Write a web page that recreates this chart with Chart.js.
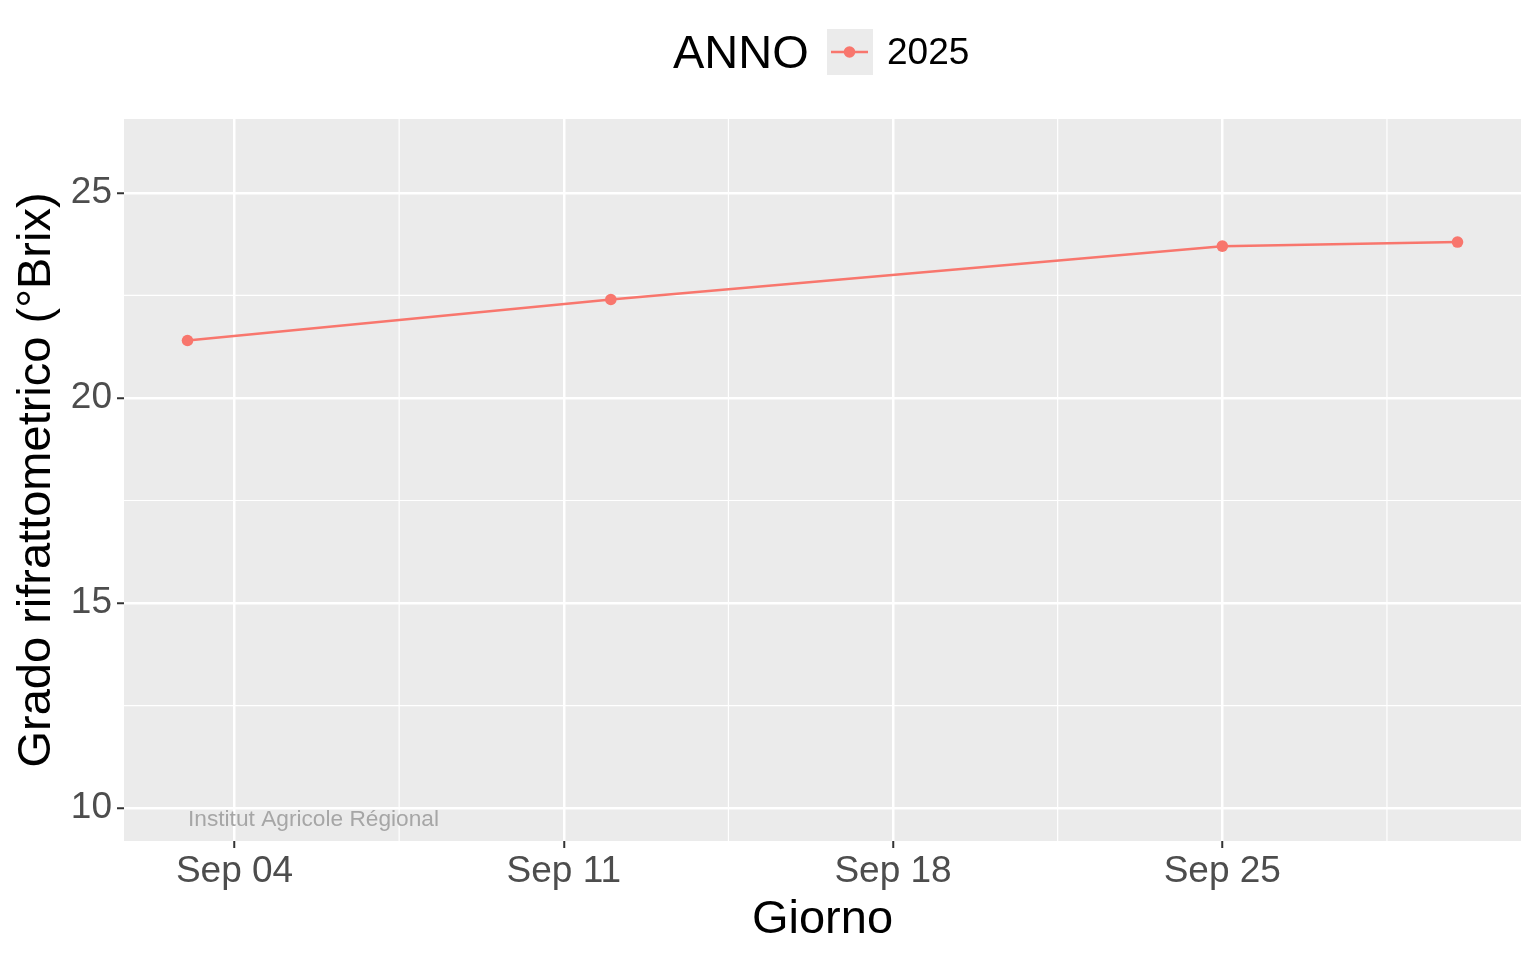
<!DOCTYPE html>
<html>
<head>
<meta charset="utf-8">
<script src="https://cdn.jsdelivr.net/npm/chart.js@4/dist/chart.umd.min.js"></script>
<style>
  html, body { margin: 0; padding: 0; background: #fff; }
  #wrap { width: 1536px; height: 960px; }
</style>
</head>
<body>
<div id="wrap"><canvas id="brixChart"></canvas></div>
<script>
// dati (giorni di settembre 2025)
const days = [3, 12, 25, 30];
const brix = [21.4, 22.4, 23.7, 23.8];
const seriesLabel = '2025';
const xTickDays = [4, 11, 18, 25];
const xTickLabels = ['Sep 04', 'Sep 11', 'Sep 18', 'Sep 25'];
const xMinorDays = [7.5, 14.5, 21.5, 28.5];
const yTicks = [10, 15, 20, 25];
const yMinor = [12.5, 17.5, 22.5];

const FONT = "'Liberation Sans', Arial, Helvetica, sans-serif";
const RED = '#F8766D';

// sfondo grigio del pannello + griglia minore
const panelPlugin = {
    id: 'panel',
    beforeDraw(chart) {
        const a = chart.chartArea, c = chart.ctx;
        c.save();
        c.fillStyle = '#EBEBEB';
        c.fillRect(a.left, a.top, a.right - a.left, a.bottom - a.top);
        c.restore();
    },
    beforeDatasetsDraw(chart) {
        const a = chart.chartArea, c = chart.ctx;
        const xs = chart.scales.x, ys = chart.scales.y;
        c.save();
        c.strokeStyle = '#FFFFFF';
        c.lineWidth = 1.2;
        xMinorDays.forEach(d => {
            const px = xs.getPixelForValue(d);
            c.beginPath(); c.moveTo(px, a.top); c.lineTo(px, a.bottom); c.stroke();
        });
        yMinor.forEach(v => {
            const py = ys.getPixelForValue(v);
            c.beginPath(); c.moveTo(a.left, py); c.lineTo(a.right, py); c.stroke();
        });
        // didascalia
        c.fillStyle = '#A6A6A6';
        c.font = '22.7px ' + FONT;
        c.textBaseline = 'alphabetic';
        c.textAlign = 'left';
        c.fillText('Institut Agricole Régional', 188, 826);
        c.restore();
    },
    afterDraw(chart) {
        // legenda in stile ggplot
        const c = chart.ctx;
        c.save();
        c.fillStyle = '#000';
        c.font = '47px ' + FONT;
        c.textBaseline = 'middle';
        c.textAlign = 'left';
        c.fillText('ANNO', 673, 55);
        c.fillStyle = '#EBEBEB';
        c.fillRect(827, 29, 46, 46);
        c.strokeStyle = RED;
        c.lineWidth = 2.5;
        c.beginPath(); c.moveTo(831, 52); c.lineTo(868, 52); c.stroke();
        c.fillStyle = RED;
        c.beginPath(); c.arc(849.5, 52, 5.8, 0, Math.PI * 2); c.fill();
        c.fillStyle = '#000';
        c.font = '37px ' + FONT;
        c.fillText(seriesLabel, 887, 54);
        c.restore();
    }
};

const ctx = document.getElementById('brixChart');
new Chart(ctx, {
    type: 'line',
    data: {
        datasets: [{
            label: seriesLabel,
            data: days.map((d, i) => ({ x: d, y: brix[i] })),
            borderColor: RED,
            backgroundColor: RED,
            borderWidth: 2.5,
            pointRadius: 5.8,
            pointBorderWidth: 0,
            tension: 0
        }]
    },
    options: {
        responsive: true,
        maintainAspectRatio: false,
        animation: false,
        layout: { padding: { top: 119, right: 15, bottom: 0, left: 0 } },
        plugins: { legend: { display: false }, tooltip: { enabled: false } },
        scales: {
            x: {
                type: 'linear',
                min: 1.65,
                max: 31.35,
                afterBuildTicks: s => { s.ticks = xTickDays.map(v => ({ value: v })); },
                afterFit: s => { s.height = 119; },
                ticks: {
                    autoSkip: false,
                    maxRotation: 0,
                    color: '#4D4D4D',
                    font: { family: FONT, size: 37 },
                    padding: 2,
                    callback: (v) => xTickLabels[xTickDays.indexOf(v)]
                },
                grid: { color: '#FFFFFF', lineWidth: 2.5, tickColor: '#333333', tickWidth: 2, tickLength: 7 },
                border: { display: false },
                title: {
                    display: true,
                    text: 'Giorno',
                    color: '#000',
                    font: { family: FONT, size: 47 },
                    padding: { top: 0, bottom: 12 }
                }
            },
            y: {
                min: 9.2,
                max: 26.8,
                afterBuildTicks: s => { s.ticks = yTicks.map(v => ({ value: v })); },
                afterFit: s => { s.width = 124; },
                ticks: {
                    color: '#4D4D4D',
                    font: { family: FONT, size: 37 },
                    padding: 5
                },
                grid: { color: '#FFFFFF', lineWidth: 2.5, tickColor: '#333333', tickWidth: 2, tickLength: 7 },
                border: { display: false },
                title: {
                    display: true,
                    text: 'Grado rifrattometrico (°Brix)',
                    color: '#000',
                    font: { family: FONT, size: 47 },
                    padding: { top: 9, bottom: 0 }
                }
            }
        }
    },
    plugins: [panelPlugin]
});
</script>
</body>
</html>
